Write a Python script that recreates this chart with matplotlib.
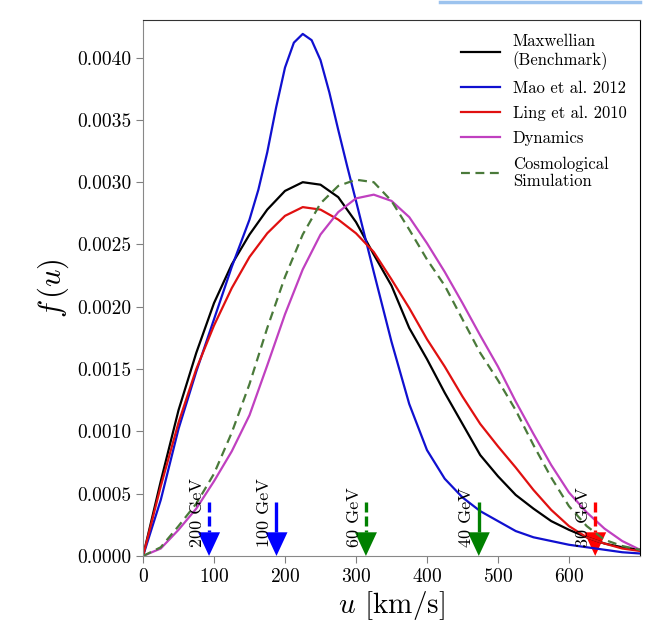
import matplotlib
matplotlib.use("Agg")
import matplotlib.pyplot as plt
from matplotlib.lines import Line2D
import numpy as np

plt.rcParams['font.family'] = 'cmr10'
plt.rcParams['mathtext.fontset'] = 'cm'
plt.rcParams['axes.formatter.use_mathtext'] = True

# speed grid (km/s) and curves
u = [0, 25, 50, 75, 100, 125, 150, 175, 200, 225, 250, 275, 300, 325, 350,
     375, 400, 425, 450, 475, 500, 525, 550, 575, 600, 625, 650, 675, 700]

maxwellian = [0, 0.00060, 0.00117, 0.00163, 0.00203, 0.00234, 0.00258, 0.00278,
              0.00293, 0.00300, 0.00298, 0.00288, 0.00268, 0.00242, 0.00217,
              0.00183, 0.00158, 0.00131, 0.00106, 0.00081, 0.00064, 0.00049,
              0.00038, 0.00028, 0.00021, 0.00015, 0.00010, 0.00007, 0.00005]
ling = [0, 0.00056, 0.00107, 0.00150, 0.00185, 0.00215, 0.00240, 0.00259,
        0.00273, 0.00280, 0.00278, 0.00270, 0.00259, 0.00244, 0.00222,
        0.00199, 0.00174, 0.00152, 0.00128, 0.00106, 0.00088, 0.00071,
        0.00053, 0.00037, 0.00024, 0.00015, 0.00010, 0.00006, 0.00004]
dynamics = [0, 0.00006, 0.00021, 0.00038, 0.00060, 0.00084, 0.00113, 0.00153,
            0.00194, 0.00230, 0.00258, 0.00276, 0.00287, 0.00290, 0.00285,
            0.00272, 0.00251, 0.00228, 0.00203, 0.00177, 0.00152, 0.00124,
            0.00098, 0.00073, 0.00051, 0.00035, 0.00022, 0.00012, 0.00005]
cosmo = [0, 0.00007, 0.00024, 0.00042, 0.00066, 0.00099, 0.00138, 0.00183,
         0.00224, 0.00258, 0.00283, 0.00297, 0.00302, 0.00300, 0.00285,
         0.00262, 0.00238, 0.00217, 0.00190, 0.00163, 0.00141, 0.00117,
         0.00089, 0.00063, 0.00040, 0.00024, 0.00013, 0.00008, 0.00005]

# Mao et al. curve is narrow, read more finely around its peak
mao_u = [0, 25, 50, 75, 100, 125, 150, 162.5, 175, 187.5, 200, 212.5, 225,
         237.5, 250, 262.5, 275, 287.5, 300, 325, 350, 375, 400, 425, 450,
         475, 500, 525, 550, 575, 600, 625, 650, 675, 700]
mao = [0, 0.00045, 0.00102, 0.00148, 0.00190, 0.00232, 0.00270, 0.00294,
       0.00324, 0.00360, 0.00392, 0.00412, 0.00419, 0.00414, 0.00398,
       0.00372, 0.00342, 0.00313, 0.00285, 0.00228, 0.00172, 0.00122,
       0.00085, 0.00062, 0.00047, 0.00036, 0.00028, 0.00020, 0.00015,
       0.00012, 0.00009, 0.00007, 0.00005, 0.00003, 0.00002]

# arrows marking threshold speeds
arrow_u = [93, 188, 314, 473, 637]
arrow_labels = ['200 GeV', '100 GeV', '60 GeV', '40 GeV', '30 GeV']
arrow_colors = ['#0000ff', '#0000ff', '#008000', '#008000', '#ff0000']
arrow_dashed = [True, False, True, False, True]

fig = plt.figure(figsize=(6.51, 6.32), dpi=100)
ax = fig.add_axes([0.2197, 0.1203, 0.7633, 0.8477])

ax.plot(u, maxwellian, color='black', lw=1.6, label='Maxwellian\n(Benchmark)')
ax.plot(mao_u, mao, color='#1010d0', lw=1.6, label='Mao et al. 2012')
ax.plot(u, ling, color='#e01010', lw=1.6, label='Ling et al. 2010')
ax.plot(u, dynamics, color='#c040c0', lw=1.6, label='Dynamics')
ax.plot(u, cosmo, color='#4a7a3a', lw=1.6, ls=(0, (4, 2.5)), label='Cosmological\nSimulation')

shaft_top = 0.00043
head_len = 0.00019
head_w = 15.5
for x, lab, c, d in zip(arrow_u, arrow_labels, arrow_colors, arrow_dashed):
    ax.plot([x, x], [shaft_top, head_len], color=c, lw=2.4,
            ls=(0, (3, 1.2)) if d else '-', solid_capstyle='butt')
    ax.fill([x - head_w, x + head_w, x], [head_len, head_len, 0], color=c, lw=0)
    ax.text(x - 17, 0.00007, lab, rotation=90, ha='center', va='bottom', fontsize=13)

ax.set_xlim(0, 700)
ax.set_ylim(0, 0.0043)
ax.set_xticks([0, 100, 200, 300, 400, 500, 600])
ax.set_yticks(np.arange(0, 0.00401, 0.0005))
ax.set_yticklabels(['%.4f' % v for v in np.arange(0, 0.00401, 0.0005)])
ax.tick_params(labelsize=14, length=5, color='#808080')

ax.set_xlabel(r'$u$ [km/s]', fontsize=21, labelpad=2)
ax.set_ylabel(r'$f\,(u)$', fontsize=22, labelpad=4)

ax.spines['left'].set_color('#888888')
ax.spines['bottom'].set_color('#888888')
ax.spines['top'].set_color('#333333')
ax.spines['right'].set_color('black')

ax.legend(loc='upper right', frameon=False, fontsize=12, handlelength=2.3,
          labelspacing=0.6, borderaxespad=0.4, handletextpad=0.8)

# highlight strip along the top edge
fig.add_artist(Line2D([0.676, 0.983], [0.997, 0.997], color='#9cc3ee', lw=2.5))

fig.savefig('out.png', dpi=100)
